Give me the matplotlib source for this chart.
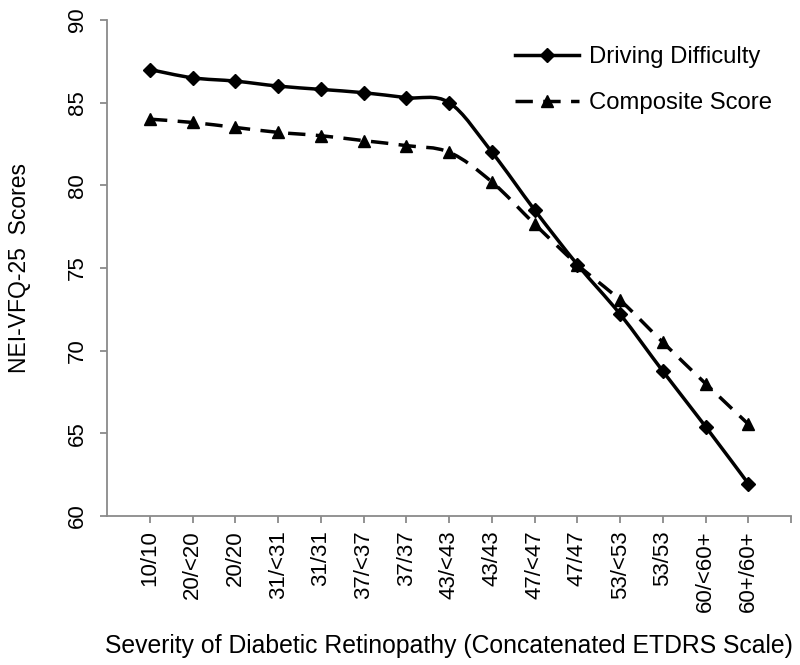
import numpy as np
import matplotlib.pyplot as plt
from matplotlib.path import Path
from matplotlib.patches import PathPatch
from matplotlib.lines import Line2D

plt.rcParams['font.family'] = ['Liberation Sans', 'DejaVu Sans']

# Dados
categories = ['10/10', '20/<20', '20/20', '31/<31', '31/31', '37/<37', '37/37',
              '43/<43', '43/43', '47/<47', '47/47', '53/<53', '53/53',
              '60/<60+', '60+/60+']
driving = [87.0, 86.5, 86.3, 86.0, 85.8, 85.6, 85.3, 85.0,
           82.0, 78.5, 75.2, 72.2, 68.75, 65.4, 61.95]
composite = [84.0, 83.8, 83.5, 83.2, 83.0, 82.7, 82.4, 82.0,
             80.2, 77.65, 75.2, 73.05, 70.5, 68.0, 65.55]


def smooth_path(x, y):
    # curva suavizada tipo Excel (Catmull-Rom -> Bezier)
    pts = np.column_stack([x, y]).astype(float)
    n = len(pts)
    verts = [pts[0]]
    codes = [Path.MOVETO]
    for i in range(n - 1):
        p0 = pts[i - 1] if i > 0 else pts[i]
        p1 = pts[i]
        p2 = pts[i + 1]
        p3 = pts[i + 2] if i + 2 < n else pts[i + 1]
        c1 = p1 + (p2 - p0) / 6
        c2 = p2 - (p3 - p1) / 6
        verts += [c1, c2, p2]
        codes += [Path.CURVE4] * 3
    return Path(verts, codes)


fig = plt.figure(figsize=(8, 6.65), dpi=100)
ax = fig.add_axes([0.134, 0.224, 0.855, 0.746])

x = np.arange(1, len(categories) + 1)

ax.add_patch(PathPatch(smooth_path(x, driving), fill=False, color='black', lw=2.5,
                       capstyle='butt'))
ax.add_patch(PathPatch(smooth_path(x, composite), fill=False, color='black', lw=2.5,
                       linestyle=(0, (5, 3)), capstyle='butt'))
ax.plot(x, driving, linestyle='none', marker='D', color='black', markersize=7.5)
ax.plot(x, composite, linestyle='none', marker='^', color='black', markersize=8.5)

ax.set_xlim(0, 16)
ax.set_ylim(60, 90)
ax.set_yticks(range(60, 91, 5))
ax.set_xticks(x)
ax.set_xticklabels(categories, rotation=90)
ax.set_xticks([16], minor=True)

gray = '#8a8a8a'
for s in ['top', 'right']:
    ax.spines[s].set_visible(False)
for s in ['left', 'bottom']:
    ax.spines[s].set_color(gray)
    ax.spines[s].set_linewidth(1.3)
ax.tick_params(axis='both', which='both', color=gray, width=1.3, length=5,
               labelsize=16)
ax.tick_params(axis='x', pad=5)
ax.tick_params(axis='y', pad=9)
for lab in ax.get_yticklabels():
    lab.set_rotation(90)
    lab.set_va('center')

ax.set_xlabel('Severity of Diabetic Retinopathy (Concatenated ETDRS Scale)', fontsize=17.8)
ax.xaxis.set_label_coords(0.5, -0.238)
ax.set_ylabel('NEI-VFQ-25  Scores', fontsize=16.5)
ax.yaxis.set_label_coords(-0.112, 0.5)

handles = [
    Line2D([], [], color='black', lw=2.5, marker='D', markersize=7.5),
    Line2D([], [], color='black', lw=2.5, linestyle=(0, (5, 3)), marker='^', markersize=8.5),
]
ax.legend(handles, ['Driving Difficulty', 'Composite Score'], loc='upper right',
          frameon=False, fontsize=17.2, handlelength=2.7, handletextpad=0.4,
          labelspacing=1.0, bbox_to_anchor=(1.003, 0.99))

plt.savefig('out.png', dpi=100)
